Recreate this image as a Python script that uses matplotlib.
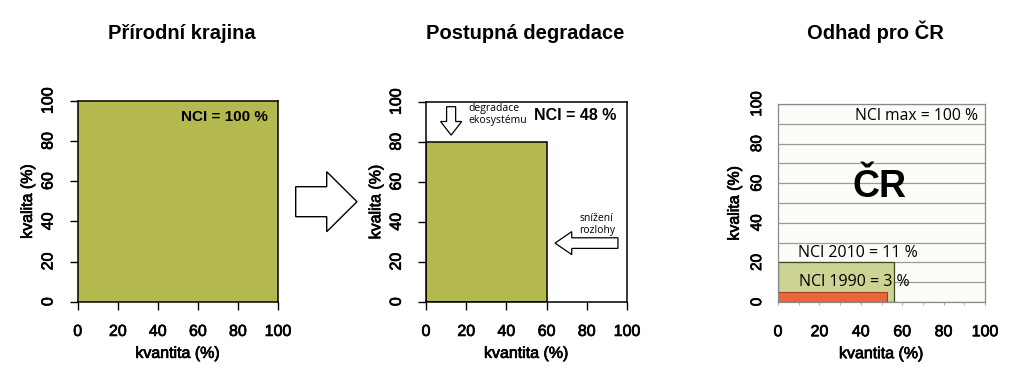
import matplotlib
matplotlib.use("Agg")
import matplotlib.pyplot as plt
import matplotlib.patheffects as pe
from matplotlib.patches import FancyArrow

# ---- data ----
titles = ["Přírodní krajina", "Postupná degradace", "Odhad pro ČR"]
ticks = [0, 20, 40, 60, 80, 100]
tick_labels = ["0", "20", "40", "60", "80", "100"]
xlabel = "kvantita (%)"
ylabel = "kvalita (%)"

natural_quantity = 100
natural_quality = 100
degraded_quantity = 60
degraded_quality = 80
cr_years = ["2010", "1990"]
cr_quantity = [56, 52.5]
cr_quality = [20, 4.8]

nci_labels = ["NCI = 100 %", "NCI = 48 %"]
cr_texts = ["NCl max = 100 %", "NCl 2010 = 11 %", "NCl 1990 = 3 %"]
annot_down = "degradace\nekosystému"
annot_left = "snížení\nrozlohy"

green = "#b3b94f"
green_light = "#ccd393"
orange = "#e8663a"

plt.rcParams['font.family'] = ['Liberation Sans', 'DejaVu Sans']
W, H = 1023, 377
fig = plt.figure(figsize=(W / 100, H / 100), dpi=100)
heavy = [pe.withStroke(linewidth=0.5, foreground='black')]

def px_axes(x0, x1, y0, y1):
    return fig.add_axes([x0 / W, 1 - y1 / H, (x1 - x0) / W, (y1 - y0) / H])

ax1 = px_axes(77.7, 278, 100.7, 301.7)
ax2 = px_axes(426, 627, 101.7, 301.7)
ax3 = px_axes(778, 985, 104, 302)

def thicken(ax):
    for lab in ax.get_xticklabels() + ax.get_yticklabels():
        lab.set_path_effects(heavy)
    ax.xaxis.label.set_path_effects(heavy)
    ax.yaxis.label.set_path_effects(heavy)

def r_style(ax):
    ax.set_xlim(0, 100)
    ax.set_ylim(0, 100)
    ax.set_xticks(ticks, tick_labels)
    ax.set_yticks(ticks, tick_labels)
    ax.tick_params(axis='both', direction='out', length=6, width=1, labelsize=11.5,
                   pad=10, color='black')
    ax.tick_params(axis='y', labelrotation=90)
    for lab in ax.get_yticklabels():
        lab.set_va('center')
    for s in ax.spines.values():
        s.set_linewidth(1.1)
        s.set_color('black')
    ax.set_xlabel(xlabel, fontsize=11.5, labelpad=5)
    ax.set_ylabel(ylabel, fontsize=11.5, labelpad=4)
    thicken(ax)

# panel 1
r_style(ax1)
ax1.bar([0], [natural_quality], width=natural_quantity, align='edge',
        color=green, edgecolor=green, linewidth=0)
ax1.text(95, 92, nci_labels[0], ha='right', va='center', fontsize=11, fontweight='bold')

# panel 2
r_style(ax2)
ax2.bar([0], [degraded_quality], width=degraded_quantity, align='edge',
        color=green, edgecolor='black', linewidth=1.1)
ax2.text(94.5, 93, nci_labels[1], ha='right', va='center', fontsize=11.5, fontweight='bold')
ax2.add_patch(FancyArrow(12.5, 97.5, 0, -14.2, width=4.5, head_width=10.5, head_length=6.8,
                         length_includes_head=True, facecolor='white', edgecolor='black',
                         linewidth=0.9, clip_on=False))
ax2.text(21, 93.5, annot_down, ha='left', va='center', fontsize=7.5, family=['Open Sans'],
         linespacing=1.1)
ax2.add_patch(FancyArrow(95.5, 29.3, -31.3, 0, width=5.3, head_width=11.5, head_length=8.3,
                         length_includes_head=True, facecolor='white', edgecolor='black',
                         linewidth=0.9, clip_on=False))
ax2.text(85, 38.5, annot_left, ha='center', va='center', fontsize=7.5, family=['Open Sans'],
         linespacing=1.1)

# panel 3
ax3.set_xlim(0, 100)
ax3.set_ylim(0, 100)
ax3.set_facecolor('#fcfcf8')
ax3.set_xticks(ticks, tick_labels)
ax3.set_yticks(ticks, tick_labels)
ax3.set_yticks(range(0, 101, 10), minor=True)
ax3.set_xticks(range(0, 101, 10), minor=True)
ax3.grid(axis='y', which='both', color='#9a9a9a', linewidth=0.9)
ax3.set_axisbelow(True)
ax3.tick_params(axis='x', which='both', direction='out', length=2, color='#aaaaaa',
                labelsize=11.5, pad=14)
ax3.tick_params(axis='y', which='both', length=0, labelsize=11, pad=10, labelrotation=90)
for lab in ax3.get_yticklabels():
    lab.set_va('center')
for s in ax3.spines.values():
    s.set_color('#8a8a8a')
    s.set_linewidth(0.9)
ax3.set_xlabel(xlabel, fontsize=11.5, labelpad=5)
ax3.set_ylabel(ylabel, fontsize=11.5, labelpad=6)
thicken(ax3)
ax3.bar([0], [cr_quality[0]], width=cr_quantity[0], align='edge',
        color=green_light, edgecolor='#3d4a1c', linewidth=0.9)
ax3.bar([0], [cr_quality[1]], width=cr_quantity[1], align='edge',
        color=orange, edgecolor='#a8401c', linewidth=0.8)
ax3.text(96.6, 94, cr_texts[0], ha='right', va='center', fontsize=11.3, family=['Open Sans'])
ax3.text(9.7, 24.7, cr_texts[1], ha='left', va='center', fontsize=11.5, family=['Open Sans'])
ax3.text(10, 10, cr_texts[2], ha='left', va='center', fontsize=11.5, family=['Open Sans'])
ax3.text(48.8, 58, "ČR", ha='center', va='center', fontsize=27, fontweight='bold')

# titles
for xc, t in zip([181.5, 525, 875], titles):
    fig.text(xc / W, 1 - 39 / H, t, ha='center', va='baseline', fontsize=14.5,
             fontweight='bold')

# big arrow between panels
fig.patches.append(FancyArrow(295.7 / W, 1 - 201.7 / H, 61.3 / W, 0, width=30 / H,
                              head_width=60 / H, head_length=30.3 / W,
                              length_includes_head=True, transform=fig.transFigure,
                              facecolor='white', edgecolor='black', linewidth=1.0,
                              figure=fig))

fig.savefig("out.png", dpi=100)
